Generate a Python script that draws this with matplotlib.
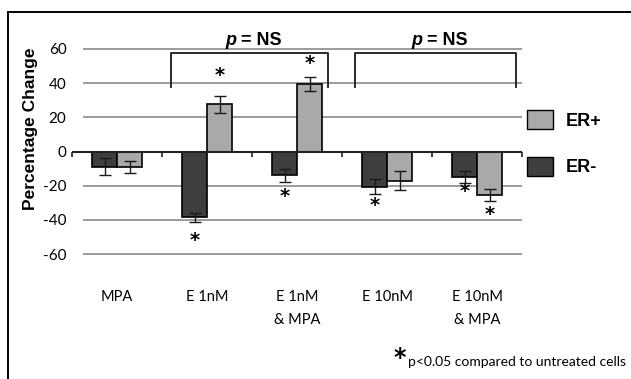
import numpy as np
import matplotlib.pyplot as plt
from matplotlib.patches import Rectangle, Patch

# data
categories = ["MPA", "E 1nM", "E 1nM\n& MPA", "E 10nM", "E 10nM\n& MPA"]
er_neg = [-9, -38.5, -14, -20.5, -15]
er_neg_err = [5, 2.5, 4, 4.5, 3.5]
er_pos = [-9, 27.5, 39.5, -17, -25.5]
er_pos_err = [3.5, 5, 4, 5.5, 3.5]
yticks = [60, 40, 20, 0, -20, -40, -60]
# significance stars: (category, series, y)  series 0 = ER-, 1 = ER+
stars = [(1, 1, 44.3), (2, 1, 51.6), (1, 0, -52.3), (2, 0, -26.4),
         (3, 0, -31.7), (4, 0, -23.5), (4, 1, -37.1)]
brackets = [(0.6, 2.34), (2.64, 4.43)]

W, H = 631, 379
dark = "#3e3e3e"
light = "#a9a9a9"

fig = plt.figure(figsize=(W / 100, H / 100), dpi=100)
fig.patches.append(Rectangle((8 / W, -0.05), 1.0, 1 - 12 / H + 0.05,
                             transform=fig.transFigure, fill=False,
                             lw=1.4, ec="black"))

# y: v -> pixel 151.5 - 1.71 v ; x: 90 px per category starting at 72
ax = fig.add_axes([72 / W, (H - 262.65) / H, 450 / W, (262.65 - 40.35) / H])
ax.set_xlim(-0.5, 4.5)
ax.set_ylim(-65, 65)
for s in ax.spines.values():
    s.set_visible(False)

x = np.arange(len(categories))
bw = 25 / 90
gstart = -0.5 + 11 / 90
ax.hlines([t for t in yticks if t != 0], gstart, 4.5, color="#808080",
          lw=1.1, zorder=1)

ax.bar(x - bw / 2, er_neg, bw, color=dark, edgecolor="black", lw=1.2, zorder=2)
ax.bar(x + bw / 2, er_pos, bw, color=light, edgecolor="black", lw=1.2, zorder=2)
ax.errorbar(x - bw / 2, er_neg, yerr=er_neg_err, fmt="none", ecolor="#1a1a1a",
            elinewidth=1.0, capsize=4.3, capthick=1.0, zorder=3)
ax.errorbar(x + bw / 2, er_pos, yerr=er_pos_err, fmt="none", ecolor="#1a1a1a",
            elinewidth=1.0, capsize=4.3, capthick=1.0, zorder=3)

# zero axis with category ticks
ax.hlines(0, -0.5, 4.5, color="#222222", lw=1.5, zorder=4)
ax.vlines(np.arange(-0.5, 5, 1.0), 0, -3, color="#222222", lw=1.2,
          zorder=4, clip_on=False)

ax.set_yticks(yticks)
ax.set_yticklabels([str(t) for t in yticks], family="Lato", fontsize=11)
ax.tick_params(axis="y", length=0, pad=4)
ax.set_xticks(x)
ax.set_xticklabels(categories, family="Lato", fontsize=10.5,
                   linespacing=1.75)
ax.tick_params(axis="x", length=0, pad=20)

for ci, si, yy in stars:
    xx = ci - bw / 2 if si == 0 else ci + bw / 2
    ax.text(xx, yy, "*", ha="center", va="center", fontsize=14,
            fontweight="bold", family="DejaVu Sans", clip_on=False)

for x0, x1 in brackets:
    ax.plot([x0, x0, x1, x1], [38, 57.5, 57.5, 38], color="#2a2a2a",
            lw=1.4, clip_on=False, zorder=5)
    xc = (x0 + x1) / 2
    ax.text(xc - 0.14, 62, "p", ha="right", va="baseline", fontsize=13,
            fontweight="bold", fontstyle="italic", family="Liberation Sans",
            clip_on=False)
    ax.text(xc - 0.09, 62, "= NS", ha="left", va="baseline", fontsize=13,
            fontweight="bold", family="Liberation Sans", clip_on=False)

fig.text(31 / W, 1 - 129 / H, "Percentage Change", rotation=90, ha="center",
         va="center", fontsize=12.5, fontweight="bold", family="Liberation Sans")

handles = [Patch(facecolor=light, edgecolor="black", lw=1.0),
           Patch(facecolor=dark, edgecolor="black", lw=1.0)]
fig.legend(handles, ["ER+", "ER-"], loc="upper left",
           bbox_to_anchor=(527 / W, 1 - 110 / H), frameon=False,
           prop={"family": "Liberation Sans", "weight": "bold", "size": 13},
           handlelength=1.45, handleheight=1.25, handletextpad=0.7,
           labelspacing=1.5, borderpad=0, borderaxespad=0)

fig.text(400 / W, 1 - 358 / H, "*", ha="center", va="center", fontsize=17,
         fontweight="bold", family="DejaVu Sans")
fig.text(408 / W, 1 - 366 / H, "p<0.05 compared to untreated cells",
         ha="left", va="baseline", fontsize=10, family="Lato")

fig.savefig("out.png", dpi=100)
